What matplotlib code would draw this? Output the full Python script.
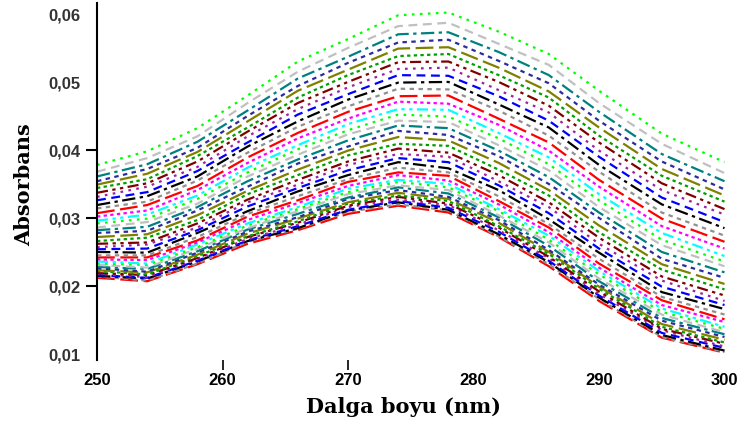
import matplotlib
matplotlib.use("Agg")
import matplotlib.pyplot as plt

# wavelengths (nm) at which each spectrum is sampled
wavelength = [250, 254, 258, 262, 266, 270, 274, 278, 282, 286, 290, 295, 300]

# absorbance spectra, lowest curve first
spectra = [
    [0.0212, 0.0207, 0.0232, 0.0262, 0.0282, 0.0306, 0.0318, 0.0308, 0.0272, 0.0229, 0.0178, 0.0124, 0.0102],
    [0.0214, 0.0208, 0.0233, 0.0265, 0.0284, 0.0309, 0.0320, 0.0311, 0.0273, 0.0232, 0.0181, 0.0125, 0.0103],
    [0.0215, 0.0211, 0.0236, 0.0266, 0.0285, 0.0311, 0.0323, 0.0312, 0.0276, 0.0235, 0.0183, 0.0128, 0.0105],
    [0.0216, 0.0212, 0.0237, 0.0267, 0.0288, 0.0312, 0.0325, 0.0315, 0.0280, 0.0237, 0.0186, 0.0131, 0.0109],
    [0.0218, 0.0213, 0.0240, 0.0269, 0.0290, 0.0316, 0.0327, 0.0319, 0.0282, 0.0241, 0.0188, 0.0135, 0.0111],
    [0.0219, 0.0216, 0.0241, 0.0272, 0.0293, 0.0318, 0.0331, 0.0321, 0.0286, 0.0243, 0.0192, 0.0137, 0.0115],
    [0.0222, 0.0217, 0.0244, 0.0273, 0.0295, 0.0321, 0.0333, 0.0325, 0.0288, 0.0247, 0.0196, 0.0140, 0.0117],
    [0.0223, 0.0220, 0.0246, 0.0277, 0.0299, 0.0323, 0.0337, 0.0328, 0.0293, 0.0250, 0.0199, 0.0144, 0.0121],
    [0.0226, 0.0221, 0.0249, 0.0280, 0.0301, 0.0328, 0.0341, 0.0331, 0.0297, 0.0253, 0.0202, 0.0149, 0.0125],
    [0.0228, 0.0225, 0.0251, 0.0283, 0.0306, 0.0330, 0.0345, 0.0336, 0.0301, 0.0259, 0.0207, 0.0153, 0.0129],
    [0.0231, 0.0227, 0.0255, 0.0285, 0.0310, 0.0335, 0.0348, 0.0341, 0.0304, 0.0264, 0.0211, 0.0158, 0.0132],
    [0.0233, 0.0231, 0.0257, 0.0289, 0.0313, 0.0338, 0.0353, 0.0345, 0.0310, 0.0268, 0.0217, 0.0162, 0.0137],
    [0.0236, 0.0233, 0.0261, 0.0292, 0.0316, 0.0343, 0.0356, 0.0350, 0.0313, 0.0274, 0.0222, 0.0167, 0.0140],
    [0.0239, 0.0238, 0.0264, 0.0297, 0.0322, 0.0347, 0.0363, 0.0355, 0.0320, 0.0279, 0.0227, 0.0172, 0.0147],
    [0.0242, 0.0242, 0.0267, 0.0302, 0.0326, 0.0353, 0.0367, 0.0362, 0.0325, 0.0286, 0.0233, 0.0179, 0.0151],
    [0.0245, 0.0245, 0.0272, 0.0306, 0.0332, 0.0357, 0.0374, 0.0367, 0.0332, 0.0291, 0.0240, 0.0184, 0.0158],
    [0.0250, 0.0249, 0.0278, 0.0310, 0.0339, 0.0363, 0.0382, 0.0373, 0.0341, 0.0298, 0.0249, 0.0191, 0.0166],
    [0.0254, 0.0255, 0.0282, 0.0317, 0.0344, 0.0370, 0.0388, 0.0382, 0.0348, 0.0307, 0.0255, 0.0199, 0.0172],
    [0.0257, 0.0261, 0.0286, 0.0323, 0.0349, 0.0378, 0.0394, 0.0390, 0.0354, 0.0316, 0.0262, 0.0208, 0.0178],
    [0.0262, 0.0264, 0.0292, 0.0327, 0.0356, 0.0383, 0.0402, 0.0396, 0.0363, 0.0323, 0.0271, 0.0214, 0.0186],
    [0.0266, 0.0271, 0.0297, 0.0335, 0.0363, 0.0392, 0.0409, 0.0406, 0.0371, 0.0333, 0.0279, 0.0224, 0.0195],
    [0.0272, 0.0276, 0.0304, 0.0340, 0.0371, 0.0399, 0.0419, 0.0414, 0.0381, 0.0341, 0.0289, 0.0232, 0.0203],
    [0.0278, 0.0281, 0.0311, 0.0346, 0.0380, 0.0405, 0.0428, 0.0422, 0.0391, 0.0350, 0.0300, 0.0240, 0.0212],
    [0.0282, 0.0287, 0.0316, 0.0354, 0.0386, 0.0414, 0.0436, 0.0432, 0.0399, 0.0360, 0.0308, 0.0250, 0.0220],
    [0.0286, 0.0294, 0.0321, 0.0361, 0.0393, 0.0423, 0.0443, 0.0441, 0.0407, 0.0370, 0.0316, 0.0260, 0.0229],
    [0.0292, 0.0299, 0.0328, 0.0367, 0.0401, 0.0429, 0.0452, 0.0449, 0.0417, 0.0379, 0.0326, 0.0268, 0.0236],
    [0.0296, 0.0305, 0.0333, 0.0374, 0.0407, 0.0438, 0.0460, 0.0459, 0.0425, 0.0389, 0.0335, 0.0278, 0.0244],
    [0.0302, 0.0311, 0.0341, 0.0381, 0.0417, 0.0446, 0.0471, 0.0468, 0.0437, 0.0399, 0.0346, 0.0288, 0.0255],
    [0.0307, 0.0319, 0.0347, 0.0389, 0.0425, 0.0456, 0.0479, 0.0480, 0.0446, 0.0411, 0.0356, 0.0299, 0.0265],
    [0.0314, 0.0324, 0.0355, 0.0396, 0.0434, 0.0464, 0.0490, 0.0489, 0.0458, 0.0421, 0.0368, 0.0308, 0.0274],
    [0.0319, 0.0332, 0.0361, 0.0405, 0.0442, 0.0474, 0.0499, 0.0500, 0.0467, 0.0433, 0.0378, 0.0320, 0.0285],
    [0.0326, 0.0338, 0.0369, 0.0411, 0.0452, 0.0482, 0.0510, 0.0509, 0.0479, 0.0443, 0.0390, 0.0330, 0.0294],
    [0.0331, 0.0346, 0.0375, 0.0420, 0.0460, 0.0492, 0.0519, 0.0521, 0.0488, 0.0455, 0.0399, 0.0341, 0.0305],
    [0.0337, 0.0351, 0.0383, 0.0427, 0.0469, 0.0500, 0.0529, 0.0530, 0.0500, 0.0465, 0.0411, 0.0351, 0.0313],
    [0.0344, 0.0357, 0.0391, 0.0433, 0.0477, 0.0510, 0.0538, 0.0541, 0.0510, 0.0477, 0.0421, 0.0362, 0.0324],
    [0.0349, 0.0365, 0.0397, 0.0442, 0.0487, 0.0518, 0.0549, 0.0551, 0.0521, 0.0486, 0.0433, 0.0372, 0.0333],
    [0.0354, 0.0372, 0.0403, 0.0450, 0.0494, 0.0528, 0.0558, 0.0562, 0.0531, 0.0498, 0.0443, 0.0383, 0.0342],
    [0.0361, 0.0379, 0.0412, 0.0458, 0.0505, 0.0537, 0.0570, 0.0573, 0.0544, 0.0510, 0.0456, 0.0394, 0.0354],
    [0.0368, 0.0388, 0.0420, 0.0469, 0.0515, 0.0550, 0.0582, 0.0587, 0.0556, 0.0525, 0.0469, 0.0409, 0.0366],
    [0.0378, 0.0398, 0.0432, 0.0480, 0.0530, 0.0563, 0.0598, 0.0602, 0.0574, 0.0541, 0.0487, 0.0424, 0.0382],
]

xticks = [250, 260, 270, 280, 290, 300]
yticks = [0.01, 0.02, 0.03, 0.04, 0.05, 0.06]
ytick_labels = ["0,01", "0,02", "0,03", "0,04", "0,05", "0,06"]

# colour / dash cycles, counted from the top curve down
colors = ["#00ff00", "#c0c0c0", "#008080", "#2b2ba0", "#808000", "#00a000", "#800000",
          "#a020a0", "#0000ff", "#000000", "#909090", "#ff0000", "#ff00ff", "#00ffff"]
styles = [(0, (1.2, 2.4)), (0, (4, 2.5)), (0, (6, 2, 1.5, 2)), (0, (2, 2)),
          (0, (8, 2.5)), (0, (1.5, 1.5)), (0, (5, 2, 1.5, 2, 1.5, 2))]

fig = plt.figure(figsize=(7.44, 4.27), dpi=100)
ax = fig.add_axes([0.1304, 0.1546, 0.8434, 0.836])

n = len(spectra)
for i, row in enumerate(spectra):
    k = n - 1 - i
    ax.plot(wavelength, row, color=colors[k % len(colors)],
            linestyle=styles[k % len(styles)], linewidth=1.6)

ax.set_xlim(250, 300)
ax.set_ylim(0.00912, 0.0616)

for side in ["top", "right", "bottom"]:
    ax.spines[side].set_visible(False)
ax.spines["left"].set_linewidth(1.5)

ax.set_xticks(xticks)
ax.set_xticklabels([str(t) for t in xticks], fontfamily="Liberation Sans",
                   fontweight="bold", fontsize=12)
ax.set_yticks(yticks)
ax.set_yticklabels(ytick_labels, fontfamily="Liberation Sans",
                   fontweight="bold", fontsize=12, color="#333333")
ax.tick_params(axis="x", length=7, width=1.2, pad=2)
ax.tick_params(axis="y", length=8, width=1.5, pad=4)

# only some tick marks show on the original plot
for t in ax.xaxis.get_major_ticks():
    if t.get_loc() not in (260, 270):
        t.tick1line.set_visible(False)
for t in ax.yaxis.get_major_ticks():
    if t.get_loc() not in (0.02, 0.03, 0.04):
        t.tick1line.set_visible(False)

ax.set_xlabel("Dalga boyu (nm)", fontfamily="DejaVu Serif",
              fontweight="bold", fontsize=15)
ax.xaxis.set_label_coords(0.489, -0.130)
ax.xaxis.label.set_va("center")
ax.set_ylabel("Absorbans", fontfamily="DejaVu Serif",
              fontweight="bold", fontsize=15)
ax.yaxis.set_label_coords(-0.116, 0.493)
ax.yaxis.label.set_va("center")

fig.savefig("out.png", dpi=100)
